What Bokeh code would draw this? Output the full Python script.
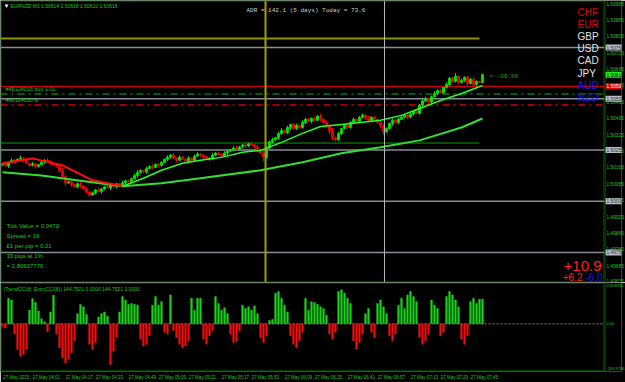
from bokeh.plotting import figure
from bokeh.layouts import column
from bokeh.models import (ColumnDataSource, Range1d, FixedTicker, Label, Span,
                          PrintfTickFormatter, BoxAnnotation)
from bokeh.embed import file_html
from bokeh.resources import INLINE

# ---------------- data ----------------
closes = [
    1.50180, 1.50172, 1.50190, 1.50200, 1.50195, 1.50205, 1.50210, 1.50198, 1.50185, 1.50175,
    1.50182, 1.50170, 1.50178, 1.50190, 1.50200, 1.50195, 1.50185, 1.50178, 1.50170, 1.50150,
    1.50120, 1.50090, 1.50095, 1.50080, 1.50070, 1.50085, 1.50075, 1.50060, 1.50045, 1.50030,
    1.50040, 1.50055, 1.50048, 1.50060, 1.50070, 1.50065, 1.50080, 1.50072, 1.50085, 1.50078,
    1.50090, 1.50100, 1.50095, 1.50110, 1.50125, 1.50140, 1.50150, 1.50145, 1.50160, 1.50170,
    1.50165, 1.50180, 1.50175, 1.50190, 1.50205, 1.50215, 1.50225, 1.50210, 1.50200, 1.50215,
    1.50205, 1.50195, 1.50210, 1.50200, 1.50220, 1.50230, 1.50225, 1.50215, 1.50205, 1.50210,
    1.50225, 1.50235, 1.50230, 1.50220, 1.50235, 1.50245, 1.50250, 1.50260, 1.50255, 1.50265,
    1.50275, 1.50270, 1.50280, 1.50275, 1.50265, 1.50250, 1.50235, 1.50215, 1.50260, 1.50290,
    1.50300, 1.50310, 1.50330, 1.50345, 1.50335, 1.50360, 1.50375, 1.50355, 1.50370, 1.50360,
    1.50385, 1.50400, 1.50390, 1.50405, 1.50395, 1.50415, 1.50400, 1.50385, 1.50370, 1.50340,
    1.50310, 1.50300, 1.50330, 1.50355, 1.50370, 1.50360, 1.50385, 1.50400, 1.50390, 1.50410,
    1.50420, 1.50405, 1.50395, 1.50410, 1.50400, 1.50385, 1.50370, 1.50340, 1.50355, 1.50380,
    1.50395, 1.50385, 1.50400, 1.50410, 1.50420, 1.50410, 1.50425, 1.50440, 1.50430, 1.50470,
    1.50490, 1.50500, 1.50485, 1.50510, 1.50525, 1.50540, 1.50530, 1.50555, 1.50570, 1.50600,
    1.50585, 1.50610, 1.50580, 1.50590, 1.50605, 1.50575, 1.50595, 1.50570, 1.50585, 1.50580,
    1.50618,
]
first_open = 1.50178
upper_wick_pts = [
    5, 8, 3, 10, 6, 4, 12, 5, 7, 3,
    9, 6, 4, 8, 5, 10, 3, 6, 8, 4,
    12, 7, 5, 9, 3, 6, 10, 4, 8, 5,
    7, 3, 9, 6, 4, 11, 5, 8, 3, 6,
    10, 4, 7, 5, 9, 12, 6, 3, 8, 5,
    10, 4, 7, 6, 3, 9, 5, 12, 4, 8,
    6, 3, 10, 5, 7, 9, 4, 6, 8, 3,
    11, 5, 7, 4, 9, 6, 3, 8, 10, 5,
    4, 7, 6, 12, 3, 9, 5, 15, 8, 6,
    10, 4, 7, 12, 5, 9, 3, 6, 8, 4,
    10, 5, 7, 3, 9, 6, 12, 4, 8, 5,
    20, 6, 9, 4, 7, 10, 5, 8, 3, 6,
    9, 4, 12, 5, 7, 3, 8, 10, 6, 4,
    9, 5, 7, 12, 4, 6, 8, 3, 10, 5,
    7, 9, 4, 6, 12, 5, 8, 3, 10, 6,
    7, 15, 5, 9, 4, 8, 6, 12, 5, 3,
    4,
]
lower_wick_pts = [
    6, 4, 9, 5, 12, 3, 7, 10, 4, 8,
    5, 11, 6, 3, 8, 4, 9, 7, 5, 10,
    8, 15, 6, 10, 4, 7, 12, 5, 9, 6,
    4, 8, 5, 11, 6, 3, 9, 7, 10, 4,
    6, 9, 3, 8, 5, 10, 4, 7, 12, 5,
    8, 3, 10, 6, 4, 9, 7, 5, 11, 6,
    4, 9, 6, 12, 5, 3, 8, 10, 4, 7,
    9, 4, 6, 8, 3, 11, 5, 7, 4, 9,
    6, 10, 5, 3, 8, 12, 6, 20, 9, 4,
    7, 5, 10, 6, 4, 8, 12, 5, 7, 9,
    5, 8, 4, 10, 6, 3, 9, 7, 11, 15,
    12, 8, 5, 7, 4, 9, 6, 10, 5, 8,
    6, 9, 4, 7, 10, 5, 12, 15, 6, 4,
    8, 5, 9, 4, 6, 10, 3, 7, 5, 8,
    9, 4, 10, 6, 3, 8, 5, 7, 4, 9,
    6, 5, 10, 4, 8, 12, 5, 9, 6, 4,
    3,
]
# moving averages (bar index, price)
fast_ma_falling_bar = [0, 10, 20, 30, 40]
fast_ma_falling = [1.50185, 1.50209, 1.50175, 1.50102, 1.50073]
fast_ma_rising_bar = [40, 47, 53, 60, 66, 73, 80, 86, 93, 100, 106, 113, 120, 126, 133, 139, 146, 153, 160]
fast_ma_rising = [1.50073, 1.50112, 1.50151, 1.50185, 1.50200, 1.50214, 1.50239, 1.50248, 1.50287, 1.50331,
                  1.50365, 1.50375, 1.50385, 1.50395, 1.50419, 1.50453, 1.50492, 1.50526, 1.50565]
slow_ma_bar = [0, 13, 26, 40, 53, 66, 86, 100, 113, 126, 139, 153, 160]
slow_ma = [1.50141, 1.50125, 1.50100, 1.50073, 1.50088, 1.50112, 1.50151, 1.50190, 1.50234, 1.50263,
           1.50297, 1.50360, 1.50404]

# TrendCCI histogram
cci = [
    -15, -25, 150, 140, -60, -150, -190, -180, -150, 80,
    148, 125, 75, 30, 12, -45, 70, 168, -60, -140,
    -200, -230, -210, -170, -100, 60, 113, 100, 55, -120,
    -150, -110, 40, 60, 70, 45, -240, -160, -80, 70,
    160, 140, 115, 120, 115, 110, -90, -130, -120, -70,
    110, 160, 110, 130, -50, -60, 170, -40, -80, -120,
    -140, -130, -100, 150, 80, 150, 150, -90, -120, -70,
    -40, 160, 120, 80, 95, 60, -60, -110, -100, -40,
    110, 90, 100, 80, 105, 60, -80, -110, -70, 20,
    25, 180, 190, 150, 110, 70, -70, -120, -140, -100,
    -50, 150, 80, 130, 125, 115, 100, 90, 50, -60,
    -90, -50, 190, 200, 180, 150, 120, -100, -150, -110,
    -60, 60, 90, -50, -80, 120, 140, 100, 60, -70,
    -100, -60, 110, 150, 90, 170, 190, 160, 130, -80,
    -120, -100, -60, 140, 110, 90, -70, -50, 160, 190,
    170, 140, 100, -90, -120, -70, 130, 150, 120, 145,
    144.7521,
]
cci_max = 226.8635
cci_min = -263.9786

# levels
round_levels = [1.50750, 1.50500, 1.50250, 1.50000, 1.49750]
round_level_labels = ["1.50750", "1.50500", "1.50250", "1.50000", "1.49750"]
bid_price = 1.50618
red_level = 1.50561
buy_level = 1.50524
sl_level = 1.50470
olive_level = 1.50794
green_level = 1.50284
trend_line_bars = [-1, 159]
olive_vline_bar = 87.67
gray_vline_bar = 127.33

price_ticks = [1.49605, 1.49685, 1.49765, 1.49845, 1.49925, 1.50005, 1.50085, 1.50165, 1.50245,
               1.50325, 1.50405, 1.50485, 1.50565, 1.50645, 1.50725, 1.50805, 1.50885, 1.50965]
time_tick_bars = [0, 10, 21, 31, 42, 52, 62, 73, 83, 94, 104, 115, 125, 136, 146, 156]
time_tick_labels = ["27 May 2015", "27 May 04:01", "27 May 04:17", "27 May 04:33", "27 May 04:49",
                    "27 May 05:05", "27 May 05:21", "27 May 05:37", "27 May 05:53", "27 May 06:09",
                    "27 May 06:25", "27 May 06:41", "27 May 06:57", "27 May 07:13", "27 May 07:29",
                    "27 May 07:45"]
currencies = ["CHF", "EUR", "GBP", "USD", "CAD", "JPY", "AUD", "NZD"]
currency_colors = ["#e00000", "#e00000", "#e6e6e6", "#e6e6e6", "#e6e6e6", "#e6e6e6", "#1818f0", "#1818f0"]
info_lines = ["Tick Value = 0.0470", "Spread = 19", "\u00a31 per pip = 0.21", "10 pips at 1%", "= 2.80927776"]

assert len(closes) == len(upper_wick_pts) == len(lower_wick_pts) == len(cci) == 161

# ---------------- layout / styling ----------------
GREEN = "#22c422"
FRAME = "#00b000"
SANS = "'Liberation Sans', Arial, sans-serif"
MONO = "'Liberation Mono', 'DejaVu Sans Mono', monospace"
BULL = "#00e600"
BEAR = "#f00000"
FW = 621                      # frame width in px (price scale drawn inside its right part)
BAR_PX = 3.0                  # px per bar
CHART_END = (604 - 2) / BAR_PX  # bar coordinate of the chart's right border
XR = Range1d(-2 / BAR_PX, (FW - 2) / BAR_PX)
FH = 282
LABEL_STANDOFF = 606 - FW

bars = list(range(len(closes)))
opens = [first_open] + closes[:-1]
highs = [max(o, c) + u * 1e-5 for o, c, u in zip(opens, closes, upper_wick_pts)]
lows = [min(o, c) - d * 1e-5 for o, c, d in zip(opens, closes, lower_wick_pts)]
colors = [BULL if c >= o else BEAR for o, c in zip(opens, closes)]
src = ColumnDataSource(dict(x=bars, o=opens, c=closes, h=highs, l=lows, col=colors))


def style_right_axis(ax, size):
    ax.major_label_text_font_size = size
    ax.major_label_text_font = SANS
    ax.major_label_text_color = GREEN
    ax.major_tick_line_color = None
    ax.major_tick_out = 0
    ax.major_tick_in = 0
    ax.minor_tick_out = 0
    ax.minor_tick_in = 0
    ax.minor_tick_line_color = None
    ax.axis_line_color = None
    ax.major_label_standoff = LABEL_STANDOFF


p = figure(frame_width=FW, height=FH, x_range=XR, y_range=Range1d(1.49603, 1.50980),
           output_backend="svg", toolbar_location=None, x_axis_location=None,
           y_axis_location="right", min_border=0,
           background_fill_color="black", border_fill_color="black",
           outline_line_color=None)
p.grid.visible = False
ya = p.yaxis[0]
ya.ticker = FixedTicker(ticks=price_ticks)
ya.formatter = PrintfTickFormatter(format="%.5f")
style_right_axis(ya, "4.8px")

# chart border
p.add_layout(BoxAnnotation(right=CHART_END, fill_alpha=0, line_color=FRAME, line_width=3, level="overlay"))

def hline(fig, level, **kw):
    fig.line([XR.start, CHART_END], [level, level], **kw)

# horizontal levels
for lv in round_levels:
    hline(p, lv, line_color="#8a8c98", line_width=1.5)
hline(p, red_level, line_color="#d00000", line_width=1.2)
hline(p, buy_level, line_color="#0a7a0a", line_width=1.5, line_dash="7 4 2 4")
hline(p, sl_level, line_color="#d00000", line_width=1.5, line_dash="7 4 2 4")
p.line(trend_line_bars, [olive_level, olive_level], line_color="#8f8f00", line_width=2)
p.line(trend_line_bars, [green_level, green_level], line_color="#0a9a0a", line_width=1)
p.add_layout(Span(location=olive_vline_bar, dimension="height", line_color="#a0a000", line_width=2))
p.add_layout(Span(location=gray_vline_bar, dimension="height", line_color="#b8b8b8", line_width=1))

# candles
p.segment(x0="x", y0="l", x1="x", y1="h", color="col", line_width=1, source=src)
p.vbar(x="x", top="o", bottom="c", width=0.6, fill_color="col", line_color="col", line_width=1, source=src)

# moving averages
p.line(slow_ma_bar, slow_ma, line_color="#33dd33", line_width=2)
p.line(fast_ma_falling_bar, fast_ma_falling, line_color="#ff1010", line_width=2)
p.line(fast_ma_rising_bar, fast_ma_rising, line_color="#22ff22", line_width=1.5)


def lab(fig, text, x, y, color, size, font=SANS, **kw):
    fig.add_layout(Label(x=x, y=y, text=text, text_color=color, text_font_size=size,
                         text_font=font, **kw))


lab(p, "\u25bc", 3, FH - 5, "#ffffff", "6px", x_units="screen", y_units="screen", text_baseline="middle")
lab(p, "EURNZD,M1  1.50614 1.50618 1.50610 1.50618", 10, FH - 5, GREEN, "5px",
    x_units="screen", y_units="screen", text_baseline="middle")
lab(p, "ADR = 142.1  (5 days)       Today = 73.6", 246, FH - 10, "#cccccc", "6px", font=MONO,
    x_units="screen", y_units="screen", text_baseline="middle")
for i, (cur, col) in enumerate(zip(currencies, currency_colors)):
    lab(p, cur, CHART_END, FH - (12 + i * 12.1), col, "10px", x_offset=-27,
        y_units="screen", text_baseline="middle")
lab(p, "<--00:56", bars[-1], bid_price, "#1fa81f", "6px", font=MONO, x_offset=7, y_offset=-2,
    text_baseline="middle")
lab(p, "#45124015 buy 1.01", 5, buy_level, GREEN, "5.5px", x_units="screen", y_offset=2,
    text_baseline="bottom")
lab(p, "#45124015 sl", 5, sl_level, GREEN, "5.5px", x_units="screen", y_offset=2,
    text_baseline="bottom")
for i, t in enumerate(info_lines):
    lab(p, t, 6, FH - (225 + i * 10), GREEN, "6px", x_units="screen", y_units="screen",
        text_baseline="middle")
lab(p, "+10.9", CHART_END, FH - 265, "#ff2020", "15px", x_offset=-3, y_units="screen",
    text_baseline="middle", text_align="right")
lab(p, "-6.0", CHART_END, FH - 276, "#1818f0", "10px", x_offset=-2, y_units="screen",
    text_baseline="middle", text_align="right")
lab(p, "+6.2", CHART_END, FH - 276, "#ff2020", "10px", x_offset=-22, y_units="screen",
    text_baseline="middle", text_align="right")

# price boxes on the price scale
for lv, t in zip(round_levels, round_level_labels):
    lab(p, t, CHART_END, lv, "#303030", "4.8px", x_offset=1, text_baseline="middle",
        background_fill_color="#b4bcc4", padding=1)
lab(p, "1.50618", CHART_END, bid_price, "#000000", "4.8px", x_offset=1, text_baseline="middle",
    background_fill_color="#22ee22", padding=1)
lab(p, "1.50561", CHART_END, red_level, "#ffffff", "4.8px", x_offset=1, text_baseline="middle",
    background_fill_color="#e00000", padding=1)

# ---------------- indicator pane ----------------
hsrc = ColumnDataSource(dict(x=bars, v=cci, col=["#1ed21e" if v >= 0 else "#f01010" for v in cci]))
q = figure(frame_width=FW, height=100, x_range=XR, y_range=Range1d(-280, 243),
           output_backend="svg", toolbar_location=None, x_axis_location="below",
           y_axis_location="right", min_border=0,
           background_fill_color="black", border_fill_color="black",
           outline_line_color=None)
q.grid.visible = False
hline(q, 0, line_color="#8a8a8a", line_width=1, line_dash="2 2")
q.vbar(x="x", top="v", bottom=0, width=0.55, fill_color="col", line_color="col", line_width=0.5, source=hsrc)
q.add_layout(BoxAnnotation(right=CHART_END, fill_alpha=0, line_color=FRAME, line_width=3, level="overlay"))

qy = q.yaxis[0]
qy.ticker = FixedTicker(ticks=[cci_min, 0, cci_max])
qy.major_label_overrides = {cci_min: "-263.9786", 0: "0.00", cci_max: "226.8635"}
style_right_axis(qy, "4px")

qx = q.xaxis[0]
tick_pos = [b + 4.6 for b in time_tick_bars]
qx.ticker = FixedTicker(ticks=tick_pos)
qx.major_label_overrides = {tp: t for tp, t in zip(tick_pos, time_tick_labels)}
qx.major_label_text_font_size = "4.5px"
qx.major_label_text_font = SANS
qx.major_label_text_color = GREEN
qx.major_tick_line_color = None
qx.major_tick_out = 0
qx.minor_tick_out = 0
qx.minor_tick_line_color = None
qx.axis_line_color = None
qx.major_label_standoff = 3

lab(q, "(TrendCCI(8, EntryCCI(8)) 144.7521 0.0000 144.7521 0.0000", 3, 243, GREEN, "5px",
    x_units="screen", y_offset=-3, text_baseline="top")

layout = column(p, q, spacing=0)
open("out.html", "w").write(file_html(layout, INLINE))
